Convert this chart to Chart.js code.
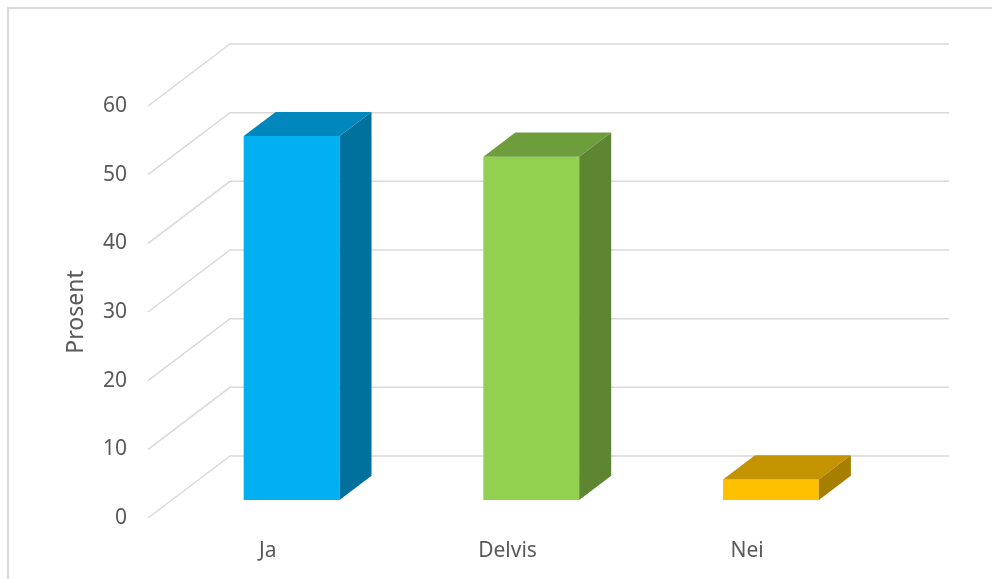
<!DOCTYPE html>
<html lang="no">
<head>
  <meta charset="UTF-8" />
  <title>Prosent</title>
  <script src="https://cdn.jsdelivr.net/npm/chart.js"></script>
  <style>
    html, body {
      margin: 0;
      padding: 0;
      background: #ffffff;
      overflow: hidden;
    }

    .frame {
      position: absolute;
      left: 7px;
      top: 7px;
      width: 1000px;
      height: 600px;
      border: 2px solid #d9d9d9;
      box-sizing: border-box;
    }

    .wrap {
      position: absolute;
      left: 0;
      top: 0;
      width: 992px;
      height: 579px;
    }
  </style>
</head>
<body>
  <div class="frame"></div>
  <div class="wrap"><canvas id="chart"></canvas></div>

  <script>
    const categories = ['Ja', 'Delvis', 'Nei'];
    const values = [53, 50, 3];
    const yTicks = [0, 10, 20, 30, 40, 50, 60];

    const frontColors = ['#00B0F0', '#92D050', '#FFC000'];
    const topColors = ['#0088BD', '#6E9E3C', '#C49300'];
    const sideColors = ['#00709C', '#5E8632', '#A67E00'];

    const FONT = "'Noto Sans', sans-serif";
    const TEXT = '#595959';

    // oblique depth of the plot box (front plane -> back wall)
    const DEPTH_X = 82;
    const DEPTH_Y = -62;
    const BAR_FRONT = 0.29;   // where the bar's front face sits in the depth
    const BAR_DEPTH = 0.39;   // how deep the bar is

    function poly(ctx, pts) {
      ctx.beginPath();
      ctx.moveTo(pts[0][0], pts[0][1]);
      for (let i = 1; i < pts.length; i++) ctx.lineTo(pts[i][0], pts[i][1]);
      ctx.closePath();
      ctx.fill();
    }

    const bars3d = {
      id: 'bars3d',
      beforeDatasetsDraw(chart) {
        const { ctx, chartArea: a, scales: { y } } = chart;
        ctx.save();
        ctx.strokeStyle = '#d9d9d9';
        ctx.lineWidth = 1.5;
        y.ticks.forEach(t => {
          const py = y.getPixelForValue(t.value);
          ctx.beginPath();
          ctx.moveTo(a.left, py);
          ctx.lineTo(a.left + DEPTH_X, py + DEPTH_Y);
          ctx.lineTo(a.right + DEPTH_X, py + DEPTH_Y);
          ctx.stroke();
        });
        ctx.restore();

        // push the bars back into the box
        ctx.save();
        ctx.translate(DEPTH_X * BAR_FRONT, DEPTH_Y * BAR_FRONT);
      },
      afterDatasetsDraw(chart) {
        const ctx = chart.ctx;
        const bx = DEPTH_X * BAR_DEPTH;
        const by = DEPTH_Y * BAR_DEPTH;
        chart.getDatasetMeta(0).data.forEach((bar, i) => {
          const l = bar.x - bar.width / 2;
          const r = bar.x + bar.width / 2;
          ctx.fillStyle = topColors[i];
          poly(ctx, [[l, bar.y], [r, bar.y], [r + bx, bar.y + by], [l + bx, bar.y + by]]);
          ctx.fillStyle = sideColors[i];
          poly(ctx, [[r, bar.y], [r + bx, bar.y + by], [r + bx, bar.base + by], [r, bar.base]]);
        });
        ctx.restore();
      }
    };

    new Chart(document.getElementById('chart'), {
      type: 'bar',
      data: {
        labels: categories,
        datasets: [
          {
            data: values,
            backgroundColor: frontColors,
            borderWidth: 0,
            categoryPercentage: 1,
            barPercentage: 0.4,
            clip: false
          }
        ]
      },
      options: {
        responsive: true,
        maintainAspectRatio: false,
        animation: false,
        layout: { padding: { left: 0, top: 106, right: 125, bottom: 0 } },
        plugins: {
          legend: { display: false },
          tooltip: { enabled: false }
        },
        scales: {
          x: {
            grid: { display: false, drawTicks: false },
            border: { display: false },
            ticks: { color: TEXT, font: { family: FONT, size: 21 }, padding: 20 },
            afterFit(s) { s.height = 61; }
          },
          y: {
            min: 0,
            max: 60,
            afterBuildTicks(s) { s.ticks = yTicks.map(v => ({ value: v })); },
            grid: { display: false, drawTicks: false },
            border: { display: false },
            ticks: { color: TEXT, font: { family: FONT, size: 21 }, padding: 21 },
            title: {
              display: true,
              text: 'Prosent',
              color: TEXT,
              font: { family: FONT, size: 23 },
              padding: { top: 63, bottom: 0 }
            },
            afterFit(s) { s.width = 148; }
          }
        }
      },
      plugins: [bars3d]
    });
  </script>
</body>
</html>
